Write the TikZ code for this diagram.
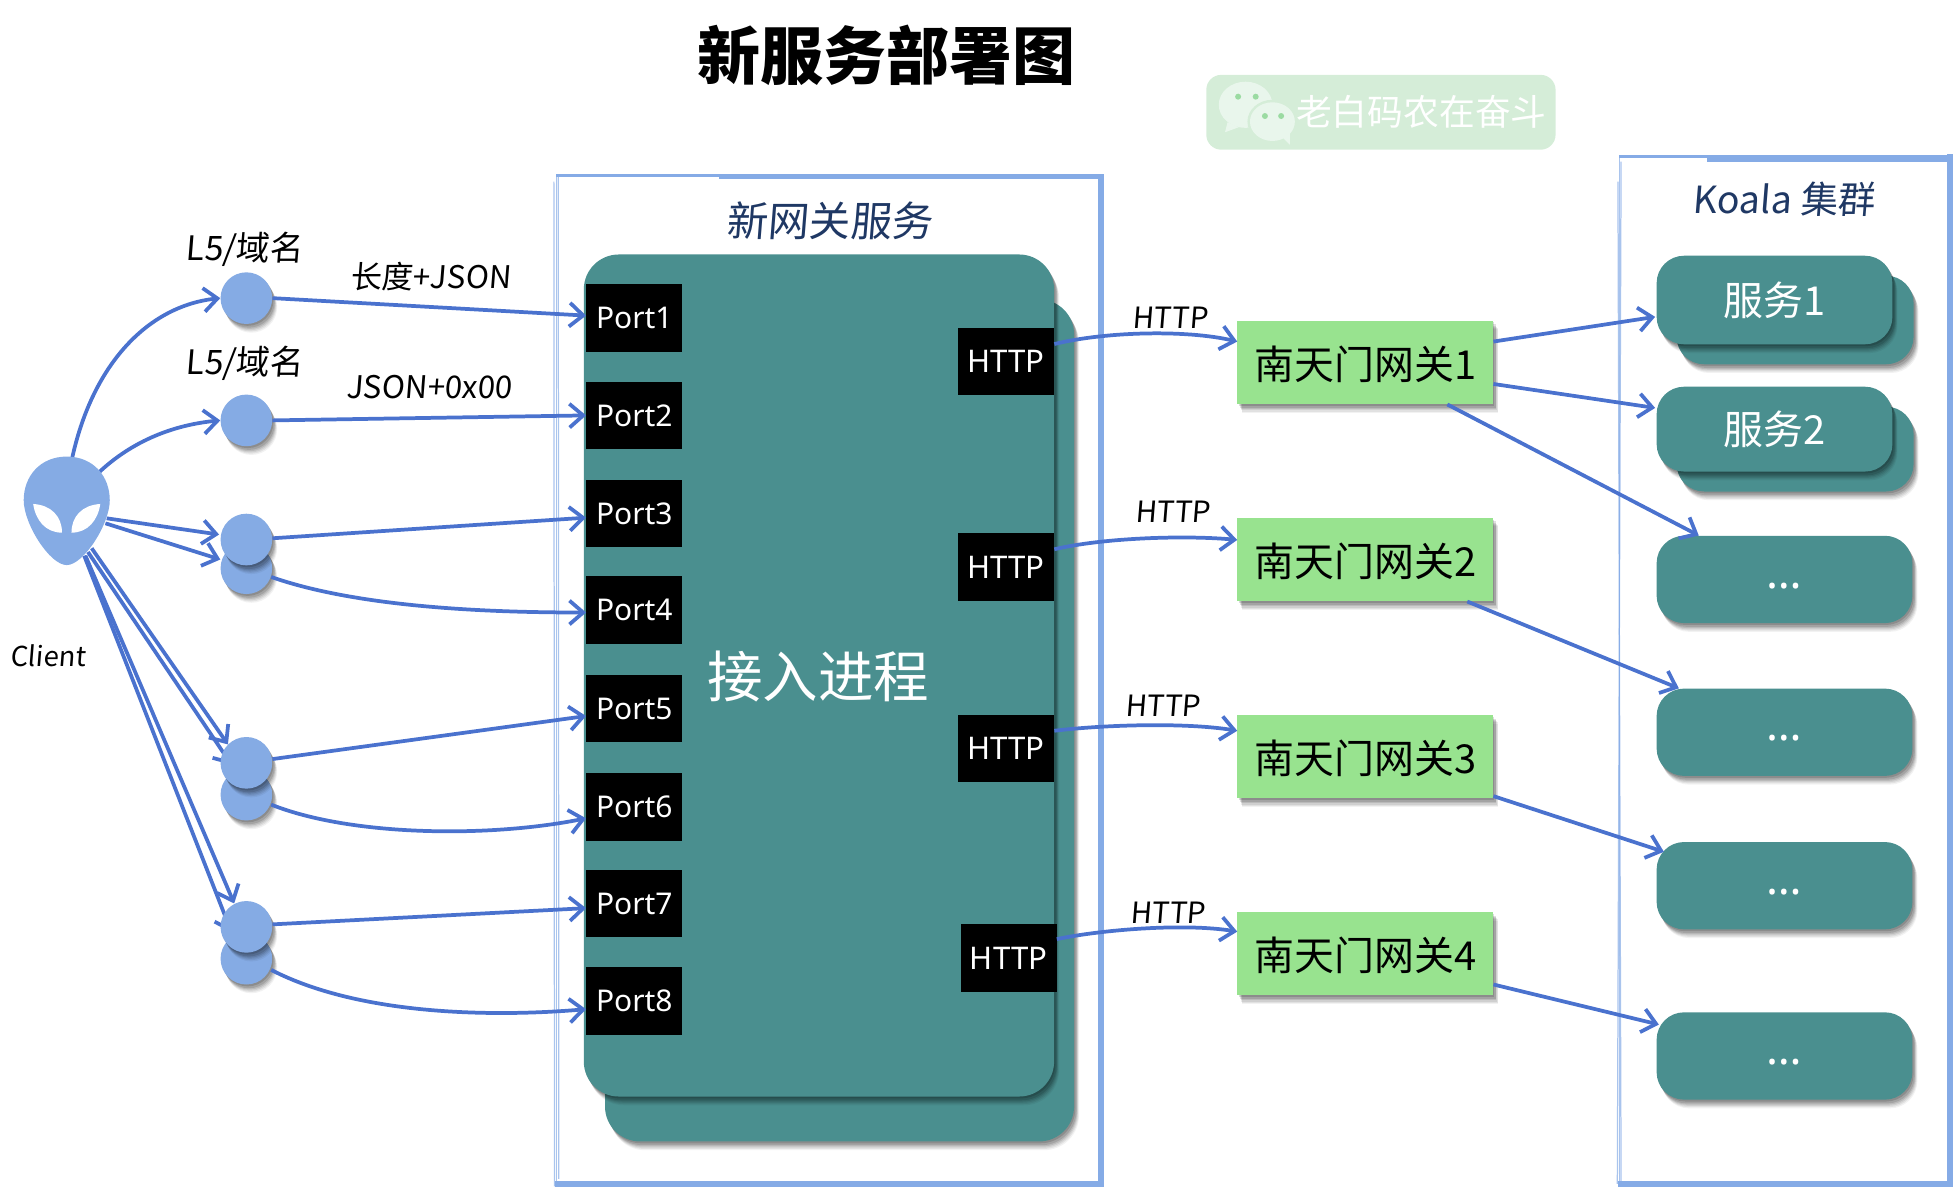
\documentclass[tikz,border=0pt]{standalone}
\usepackage{fontspec}
\usetikzlibrary{arrows.meta,shadows,calc}
\setmainfont{Noto Sans}
\newfontfamily\cjk{Noto Sans CJK SC}
\newfontfamily\hand{Noto Sans CJK SC}[FakeSlant=0.08]
\definecolor{teal1}{HTML}{4A8F8F}
\definecolor{link}{HTML}{4A72CE}
\definecolor{circ}{HTML}{85ABE4}
\definecolor{frameb}{HTML}{85ABE6}
\definecolor{gw}{HTML}{98E38F}
\definecolor{navy}{HTML}{1F3864}
\definecolor{wm}{HTML}{D5EDD8}
\definecolor{wmb}{HTML}{E9F6EC}
\definecolor{wmd}{HTML}{9BDBA2}
\pgfdeclarelayer{back}
\pgfsetlayers{back,main}
\tikzset{
  softshadow/.style={
    general shadow={fill=black,opacity=.05,shadow xshift=4pt,shadow yshift=-7pt},
    general shadow={fill=black,opacity=.07,shadow xshift=3.5pt,shadow yshift=-6pt},
    general shadow={fill=black,opacity=.08,shadow xshift=3pt,shadow yshift=-5pt},
    general shadow={fill=black,opacity=.10,shadow xshift=2.5pt,shadow yshift=-4pt},
    general shadow={fill=black,opacity=.12,shadow xshift=2pt,shadow yshift=-3pt},
    general shadow={fill=black,opacity=.14,shadow xshift=1pt,shadow yshift=-1.5pt}},
  conn/.style={draw=link,line width=3pt,-{Straight Barb[length=11pt,width=19pt,line width=3pt]}},
  portbox/.style={fill=black,text=white,minimum width=77pt,minimum height=54pt,inner sep=0pt,font=\fontsize{24}{24}\selectfont},
  httpbox/.style={portbox,font=\fontsize{25}{25}\selectfont},
  gwbox/.style={fill=gw,softshadow,minimum width=205pt,minimum height=67pt,inner sep=0pt,text depth=0pt,font=\cjk\fontsize{32}{32}\selectfont},
  card/.style={fill=teal1,rounded corners=22pt,softshadow,inner sep=0pt,text=white,font=\cjk\fontsize{32}{32}\selectfont},
  dotcard/.style={card,minimum width=205pt,minimum height=70pt,font=\fontsize{36}{36}\selectfont},
  dotnode/.style={circle,fill=circ,softshadow,minimum size=41.4pt,inner sep=0pt},
  handlab/.style={font=\hand\fontsize{25}{25}\selectfont,inner sep=0pt},
  handsmall/.style={font=\hand\fontsize{23.5}{24}\selectfont,inner sep=0pt},
  framefine/.style={draw=frameb,line width=1pt,opacity=.7},
  framefat/.style={draw=frameb,line width=4.5pt},
  frametop/.style={draw=frameb,line width=2.5pt},
}
\newcommand{\dotsup}{\smash{\raisebox{-7pt}{…}}}
\begin{document}
\begin{tikzpicture}[x=1pt,y=-1pt]
\useasboundingbox (0,0) rectangle (1568,955.6);
% ---- nodes
\node[font=\cjk\bfseries\fontsize{50.5}{50}\selectfont,inner sep=0pt] (title) at (711,44) {新服务部署图};
% watermark
\node[fill=wm,rounded corners=12pt,minimum width=280pt,minimum height=60pt,inner sep=0pt] (wmark) at (1107,90) {};
\fill[wmb] (998.5,84) ellipse [x radius=21.5,y radius=18.5];
\fill[wmb] (984,98) -- (982,106) -- (993,102) -- cycle;
\fill[wm] (1020,97.5) ellipse [x radius=20,y radius=17.5];
\fill[wmb] (1020,97.5) ellipse [x radius=18,y radius=15.5];
\fill[wmb] (1028,110) -- (1034,116) -- (1034,106) -- cycle;
\foreach \p in {(992.5,77.5),(1006.6,77.5),(1014,93),(1027,93)} \fill[wmd] \p circle (2.4);
\node[text=white,font=\cjk\fontsize{28.7}{29}\selectfont,inner sep=0pt] (wmtext) at (1139.5,90) {老白码农在奋斗};

% gateway service
\node[fill=teal1,rounded corners=28pt,softshadow,minimum width=376pt,minimum height=675pt,inner sep=0pt] (procback) at (673,577.5) {};
\node[fill=teal1,rounded corners=28pt,softshadow,minimum width=377pt,minimum height=675pt,inner sep=0pt] (proc) at (656.5,541.5) {};
\node[text=white,font=\cjk\fontsize{44.5}{45}\selectfont,inner sep=0pt] (proclab) at (656,542) {接入进程};
\node[text=navy,font=\hand\fontsize{33}{33}\selectfont,inner sep=0pt] (svclab) at (665,177) {新网关服务};
\node[text=navy,font=\hand\fontsize{30}{30}\selectfont,inner sep=0pt] (koalalab) at (1430,160) {Koala 集群};

\node[portbox] (p1) at (508.5,255) {Port1};
\node[portbox] (p2) at (508.5,333) {Port2};
\node[portbox] (p3) at (508.5,411.5) {Port3};
\node[portbox] (p4) at (508.5,489) {Port4};
\node[portbox] (p5) at (508.5,568) {Port5};
\node[portbox] (p6) at (508.5,647) {Port6};
\node[portbox] (p7) at (508.5,724.5) {Port7};
\node[portbox] (p8) at (508.5,802.5) {Port8};

\node[httpbox] (h1) at (806.5,290) {HTTP};
\node[httpbox] (h2) at (806.5,454.5) {HTTP};
\node[httpbox] (h3) at (806.5,600) {HTTP};
\node[httpbox] (h4) at (808.5,768) {HTTP};

\node[gwbox] (g1) at (1094.5,290.5) {南天门网关1};
\node[gwbox] (g2) at (1094.5,448.5) {南天门网关2};
\node[gwbox] (g3) at (1094.5,606.5) {南天门网关3};
\node[gwbox] (g4) at (1094.5,764.5) {南天门网关4};

\node[card,minimum width=190pt,minimum height=71pt] (s1b) at (1439,256.5) {};
\node[card,minimum width=189pt,minimum height=71pt] (s1) at (1422.5,240.5) {服务1};
\node[card,minimum width=190pt,minimum height=68pt] (s2b) at (1439,360) {};
\node[card,minimum width=189pt,minimum height=68pt] (s2) at (1422.5,344) {服务2};
\node[dotcard] (d1) at (1430.5,464.5) {\dotsup};
\node[dotcard] (d2) at (1430.5,587) {\dotsup};
\node[dotcard] (d3) at (1430.5,710) {\dotsup};
\node[dotcard] (d4) at (1430.5,846.5) {\dotsup};

% circles
\node[dotnode] (c3b) at (197.5,455.5) {};
\node[dotnode] (c3) at (197.5,432.5) {};
\node[dotnode] (c4b) at (197.5,637) {};
\node[dotnode] (c4) at (197.5,611.5) {};
\node[dotnode] (c5b) at (197.5,768.5) {};
\node[dotnode] (c5) at (197.5,743) {};
\node[dotnode] (c1) at (197.5,239) {};
\node[dotnode] (c2) at (197.5,337) {};

% client head
\node[minimum width=69pt,minimum height=87pt,inner sep=0pt] (client) at (53.5,409.5) {};
\fill[circ] (53.5,366) .. controls (75,366) and (88,382) .. (88,401)
  .. controls (88,420) and (67,453) .. (53.5,453)
  .. controls (40,453) and (19,420) .. (19,401)
  .. controls (19,382) and (32,366) .. (53.5,366) -- cycle;
\fill[white] (26.6,404) .. controls (41,404.8) and (49.7,414) .. (49.7,427)
  .. controls (36.4,427) and (28.5,416.8) .. (26.6,404) -- cycle;
\fill[white] (80.4,404) .. controls (66,404.8) and (57.3,414) .. (57.3,427)
  .. controls (70.6,427) and (78.5,416.8) .. (80.4,404) -- cycle;

% labels
\node[font=\hand\fontsize{27}{27}\selectfont,inner sep=0pt] (l1) at (196,200) {L5/域名};
\node[font=\hand\fontsize{27}{27}\selectfont,inner sep=0pt] (l2) at (196,291) {L5/域名};
\node[handlab] (l3) at (345,222) {长度+JSON};
\node[handlab] (l4) at (344,310) {JSON+0x00};
\node[font=\hand\fontsize{22}{22}\selectfont,inner sep=0pt] (l5) at (38.5,526) {Client};
\node[handsmall] (t1) at (938,255) {HTTP};
\node[handsmall] (t2) at (940,410) {HTTP};
\node[handsmall] (t3) at (932,566) {HTTP};
\node[handsmall] (t4) at (936,732) {HTTP};

% ---- behind the nodes: frames and client connectors
\begin{pgfonlayer}{back}
\coordinate (fa) at (446,140.5);
\coordinate (fb) at (882.5,949);
\draw[framefine] (fa) -- (fa |- fb);
\draw[framefine] ($(fa)+(-2,5)$) -- ($(fa |- fb)+(-1.5,2)$);
\draw[framefine] ($(fa)+(1.5,0)$) -- ($(fa |- fb)+(2,-4)$);
\draw[frametop] ($(fa)+(0,0)$) -- ($(fa -| fb)+(0,0)$);
\draw[frametop] ($(fa)+(130,1.5)$) -- ($(fa -| fb)+(0,1.5)$);
\draw[framefat] ($(fa -| fb)+(0,-1)$) -- (fb) -- ($(fa |- fb)+(-1,0)$);
\coordinate (ka) at (1298,125.5);
\coordinate (kb) at (1563,949);
\draw[framefine] (ka) -- (ka |- kb);
\draw[framefine] ($(ka)+(1.5,4)$) -- ($(ka |- kb)+(-1.5,0)$);
\draw[framefine] ($(ka)+(-1,20)$) -- ($(ka |- kb)+(1.5,0)$);
\draw[frametop] (ka) -- (ka -| kb);
\draw[framefat] ($(ka)+(70,2)$) -- ($(ka -| kb)+(0,2)$);
\draw[framefat] ($(ka -| kb)+(0,-2)$) -- (kb) -- ($(ka |- kb)+(-1,0)$);

\path[conn] ($(client)+(4.5,-43)$) .. controls (75,290) and (120,245) .. (c1.west);
\path[conn] ($(client)+(26,-31)$) .. controls (110,350) and (145,340) .. (c2.west);
\path[conn] ($(client)+(32,6)$) -- ($(c3.west)+(-1,-4)$);
\path[conn] ($(client)+(31,10)$) -- ($(c3b.west)+(0,-7)$);
\path[conn] ($(client)+(20,30)$) -- (c4.north west);
\path[conn] ($(client)+(17,33)$) -- ($(c4b.north west)+(3,-9)$);
\path[conn] ($(client)+(15,36)$) -- ($(c5.north west)+(5,-4)$);
\path[conn] ($(client)+(14,36)$) -- ($(c5b.north west)+(3,-6)$);
\end{pgfonlayer}

% ---- connectors
\path[conn] (c1.east) -- ($(p1.west)+(0,-2)$);
\path[conn] (c2.east) -- (p2.west);
\path[conn] ($(c3.east)+(0,-1)$) -- ($(p3.west)+(0,3.5)$);
\path[conn] ($(c3b.east)+(-1,7)$) .. controls (290,488) and (400,491) .. ($(p4.west)+(0,2)$);
\path[conn] ($(c4.east)+(0,-3)$) -- ($(p5.west)+(0,6)$);
\path[conn] ($(c4b.east)+(-1,8)$) .. controls (280,670) and (390,672) .. ($(p6.west)+(0,9)$);
\path[conn] ($(c5.east)+(0,-2)$) -- ($(p7.west)+(0,3.5)$);
\path[conn] ($(c5b.east)+(-1,9)$) .. controls (290,815) and (400,815) .. ($(p8.west)+(0,6.5)$);

\path[conn] ($(h1.north east)+(0,13)$) .. controls (885,266) and (950,264) .. ($(g1.north west)+(0,17)$);
\path[conn] ($(h2.north east)+(0,13)$) .. controls (885,431) and (950,429) .. ($(g2.north west)+(0,18)$);
\path[conn] ($(h3.north east)+(0,13)$) .. controls (885,581) and (950,579) .. ($(g3.north west)+(0,13)$);
\path[conn] ($(h4.north east)+(0,12)$) .. controls (885,745) and (950,740) .. ($(g4.north west)+(0,16)$);

\path[conn] ($(g1.north east)+(0,17)$) -- ($(s1.west)+(-1,13.5)$);
\path[conn] ($(g1.north east)+(0,51)$) -- ($(s2.west)+(-1,-17)$);
\path[conn] ($(g1.south east)+(-37,0)$) -- ($(d1.north west)+(34,0)$);
\path[conn] ($(g2.south east)+(-21,0)$) -- ($(d2.north west)+(18,0)$);
\path[conn] ($(g3.south east)+(0,-2)$) -- ($(d3.north west)+(6,8)$);
\path[conn] ($(g4.south east)+(0,-9)$) -- ($(d4.north west)+(2,10)$);
\end{tikzpicture}
\end{document}
